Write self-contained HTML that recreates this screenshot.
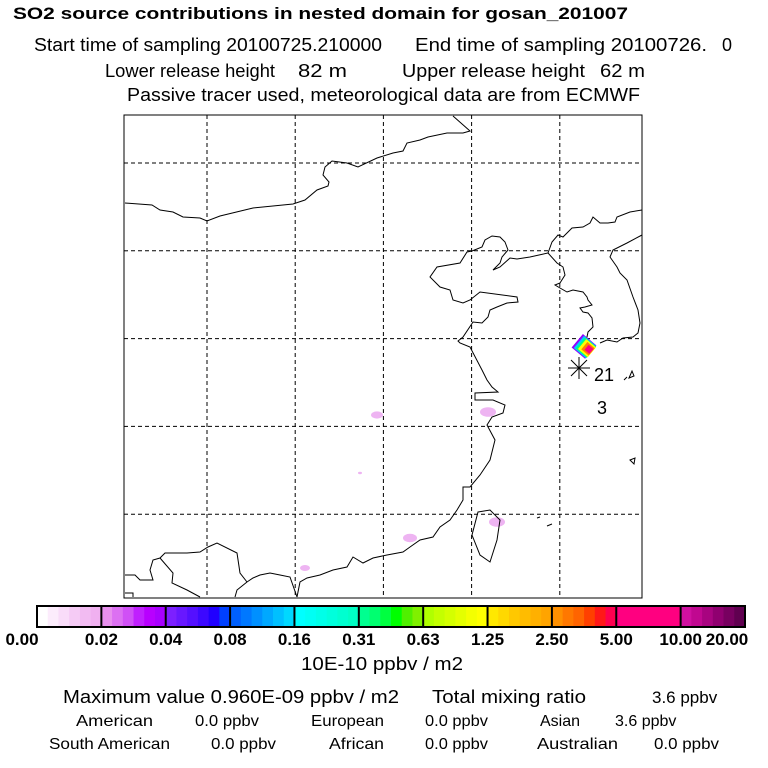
<!DOCTYPE html>
<html><head><meta charset="utf-8"><style>
html,body{margin:0;padding:0;background:#fff;width:768px;height:768px;overflow:hidden}
svg{display:block;font-family:"Liberation Sans",sans-serif}
</style></head><body>
<svg id="c" width="768" height="768" viewBox="0 0 768 768">
<g>
<text x="13" y="19" font-size="17" font-weight="bold" textLength="615" lengthAdjust="spacingAndGlyphs">SO2 source contributions in nested domain for gosan_201007</text>
<text x="34" y="51" font-size="18" textLength="348" lengthAdjust="spacingAndGlyphs">Start time of sampling 20100725.210000</text>
<text x="415" y="51" font-size="18" textLength="292" lengthAdjust="spacingAndGlyphs">End time of sampling 20100726.</text>
<text x="722" y="51" font-size="18">0</text>
<text x="105" y="77" font-size="18" textLength="170" lengthAdjust="spacingAndGlyphs">Lower release height</text>
<text x="298" y="77" font-size="18" textLength="49" lengthAdjust="spacingAndGlyphs">82 m</text>
<text x="402" y="77" font-size="18" textLength="183" lengthAdjust="spacingAndGlyphs">Upper release height</text>
<text x="600" y="77" font-size="18" textLength="45" lengthAdjust="spacingAndGlyphs">62 m</text>
<text x="127" y="101" font-size="18" textLength="513" lengthAdjust="spacingAndGlyphs">Passive tracer used, meteorological data are from ECMWF</text>
</g>
<g id="map"></g>
<g id="cbar"></g>
<g font-size="16">
<text x="301" y="670" font-size="18" textLength="162" lengthAdjust="spacingAndGlyphs">10E-10 ppbv / m2</text>
<text x="63" y="703" font-size="18" textLength="336" lengthAdjust="spacingAndGlyphs">Maximum value  0.960E-09 ppbv / m2</text>
<text x="432" y="703" font-size="18" textLength="154" lengthAdjust="spacingAndGlyphs">Total mixing ratio</text>
<text x="652" y="703" font-size="17">3.6 ppbv</text>
<text x="76" y="726" textLength="77" lengthAdjust="spacingAndGlyphs">American</text>
<text x="195" y="726" textLength="64" lengthAdjust="spacingAndGlyphs">0.0 ppbv</text>
<text x="311" y="726" textLength="73" lengthAdjust="spacingAndGlyphs">European</text>
<text x="425" y="726" textLength="63" lengthAdjust="spacingAndGlyphs">0.0 ppbv</text>
<text x="540" y="726">Asian</text>
<text x="615" y="726">3.6 ppbv</text>
<text x="49" y="749" textLength="121" lengthAdjust="spacingAndGlyphs">South American</text>
<text x="211" y="749" textLength="65" lengthAdjust="spacingAndGlyphs">0.0 ppbv</text>
<text x="329" y="749" textLength="55" lengthAdjust="spacingAndGlyphs">African</text>
<text x="425" y="749" textLength="63" lengthAdjust="spacingAndGlyphs">0.0 ppbv</text>
<text x="537" y="749" textLength="81" lengthAdjust="spacingAndGlyphs">Australian</text>
<text x="654" y="749" textLength="65" lengthAdjust="spacingAndGlyphs">0.0 ppbv</text>
</g>
</svg>
<script>
const tickLabels=["0.00","0.02","0.04","0.08","0.16","0.31","0.63","1.25","2.50","5.00","10.00","20.00"];
const sectionColors=[
["#ffffff","#fcecfc","#f9dcf9","#f5cbf5","#f2bbf2","#f0b0f0"],
["#e890ee","#dc70f2","#d050f6","#c020fe","#b800ff","#a800ff"],
["#7c20ff","#6818ff","#5410ff","#3c08ff","#2000ff","#0040ff"],
["#0060ff","#0078ff","#0090ff","#00a8ff","#00c0ff","#00d8ff"],
["#00ffff","#00fff4","#00ffe8","#00ffdc","#00ffd0","#00ffc4"],
["#00ff90","#00ff70","#00ff40","#00ff00","#50f000","#80f000"],
["#b0ff00","#c4ff00","#d4ff00","#e4ff00","#f4ff00","#ffff00"],
["#ffe800","#ffd800","#ffc800","#ffbc00","#ffb000","#ffa400"],
["#ff9000","#ff7800","#ff6400","#ff4000","#ff1818","#ff0050"],
["#ff0080","#ff0080","#ff0080","#ff0080","#ff0080","#ff0080"],
["#d010a0","#c00890","#a80480","#900070","#780060","#600050"]
];
const gridLon=[0,1,2,3,4];
const gridLat=[0,1,2,3,4];
const plumeX=[377,488,497,410,305,360];
const plumeY=[415,412,522,538,568,473];
const plumeR=[6,8,8,7,5,2];
const NS="http://www.w3.org/2000/svg";
function mk(t,a,p){const e=document.createElementNS(NS,t);for(const k in a)e.setAttribute(k,a[k]);p.appendChild(e);return e;}
const map=document.getElementById('map'), cb=document.getElementById('cbar');
const X0=124,X1=642,Y0=115,Y1=598;
const gx=i=>207+i*88.2, gy=i=>163+i*87.8;
plumeX.forEach((x,i)=>{const e=mk('ellipse',{cx:x,cy:plumeY[i],rx:plumeR[i],ry:plumeR[i]*0.6,fill:'#eeb4f2'},map);
});
const coasts=[
"M125,203 L152,205 L160,210 L173,212 L183,217 L200,218 L207,221 L220,216 L253,208 L293,204 L305,200 L317,190 L328,186 L329,182 L323,175 L325,167 L332,161 L347,163 L358,167 L377,158 L393,153 L403,151 L407,143 L420,140 L428,137 L447,133 L463,133 L470,131 L453,116",
"M642,210 L630,212 L617,217 L615,222 L608,223 L600,223 L593,217 L590,223 L583,227 L572,228 L563,237 L558,235 L552,242 L548,253 L530,257 L517,259 L510,258 L500,267 L493,270 L500,263 L502,257 L508,250 L505,242 L500,237 L492,236 L485,240 L482,247 L472,251 L467,252 L460,263 L437,267 L430,277 L440,287 L450,290 L453,300 L463,303 L470,300 L480,292 L517,297 L518,302 L507,303 L497,307 L490,310 L488,317 L482,323 L473,322 L463,337 L458,341 L460,343 L470,347 L482,370 L487,380 L492,387 L498,392 L475,393 L475,400 L493,400 L505,405 L503,413 L492,417 L487,425 L495,440 L490,460 L480,475 L470,487 L463,487 L463,500 L457,510 L450,520 L440,527 L433,537 L420,540 L410,547 L403,552 L387,555 L373,558 L363,563 L353,557 L347,567 L333,570 L320,575 L307,578 L300,582 L297,597",
"M548,253 L557,263 L563,267 L565,275 L560,283 L555,285 L560,288 L567,292 L573,290 L583,292 L587,297 L588,300 L592,305 L585,307 L580,308 L583,312 L588,313 L592,318 L593,327 L588,332 L587,337 L582,340",
"M600,343 L607,340 L617,342 L623,338 L633,337 L638,333 L640,323 L638,310 L633,297 L627,280 L620,273 L617,267 L610,257 L613,250 L627,243 L642,235",
"M478,512 L490,510 L500,520 L497,540 L490,562 L480,555 L472,535 Z",
"M297,597 L290,577 L280,575 L270,573 L260,575 L253,578 L247,582 L240,573 L237,553 L217,543 L208,547 L200,552 L187,553 L165,553 L160,558 L153,560 L150,570 L153,580 L140,580 L135,575 L125,575",
"M160,558 L173,573 L172,583 L187,590 L200,597 M247,582 L237,590 L235,597 M125,593 L133,593 L133,597",
"M630,460 L635,458 L634,464 Z M629,378 L634,376 L632,371 Z M624,380 L627,377 Z M537,518 L540,517 M547,526 L552,524"
];
coasts.forEach(d=>{const p=mk('path',{d:d,fill:'none',stroke:'#000','stroke-width':1},map);
});
gridLon.forEach(i=>{const l=mk('line',{x1:gx(i),x2:gx(i),y1:Y0,y2:Y1,stroke:'#000','stroke-dasharray':'4,3','stroke-width':1},map);
});
gridLat.forEach(i=>{const l=mk('line',{x1:X0,x2:X1,y1:gy(i),y2:gy(i),stroke:'#000','stroke-dasharray':'4,3','stroke-width':1},map);
});
const blob=[["#9000ff",11,-1],["#00ccff",10,0],["#00ff80",9,1],["#ffff00",8,2],["#ff8000",6,3],["#ff0080",4,4]];
blob.forEach(b=>{const cx=585+b[2],cy=347+b[2]*0.6;const e=mk('rect',{x:cx-b[1]*0.8,y:cy-b[1]*0.8,width:1.6*b[1],height:1.6*b[1],fill:b[0],transform:`rotate(40 ${cx} ${cy})`},map);
});
const star=mk('path',{d:"M568,368 L590,368 M579,357 L579,379 M571,360 L587,376 M587,360 L571,376",stroke:'#000','stroke-width':1},map);

[["21",594,381],["3",597,414]].forEach(t=>{const e=mk('text',{x:t[1],y:t[2],'font-size':18},map);e.textContent=t[0];
});
const fr=mk('rect',{x:X0,y:Y0,width:X1-X0,height:Y1-Y0,fill:'none',stroke:'#000','stroke-width':1},map);

const CX0=37,CX1=745,CY=606,CH=21,sw=(CX1-CX0)/sectionColors.length;
sectionColors.forEach((cols,i)=>{cols.forEach((c,j)=>{const r=mk('rect',{x:CX0+i*sw+j*sw/cols.length,y:CY,width:sw/cols.length+0.5,height:CH,fill:c},cb);
});
if(i>0){const l=mk('line',{x1:CX0+i*sw,x2:CX0+i*sw,y1:CY,y2:CY+CH,stroke:'#000','stroke-width':2},cb);
}});
const cf=mk('rect',{x:CX0,y:CY,width:CX1-CX0,height:CH,fill:'none',stroke:'#000','stroke-width':2},cb);

tickLabels.forEach((t,i)=>{let x=CX0+i*sw;if(i===0)x=22;if(i===tickLabels.length-1)x=CX1-18;
const e=mk('text',{x:x,y:645,'font-size':17,'font-weight':'bold','text-anchor':'middle'},cb);
e.textContent=t;
});
</script>
</body></html>
